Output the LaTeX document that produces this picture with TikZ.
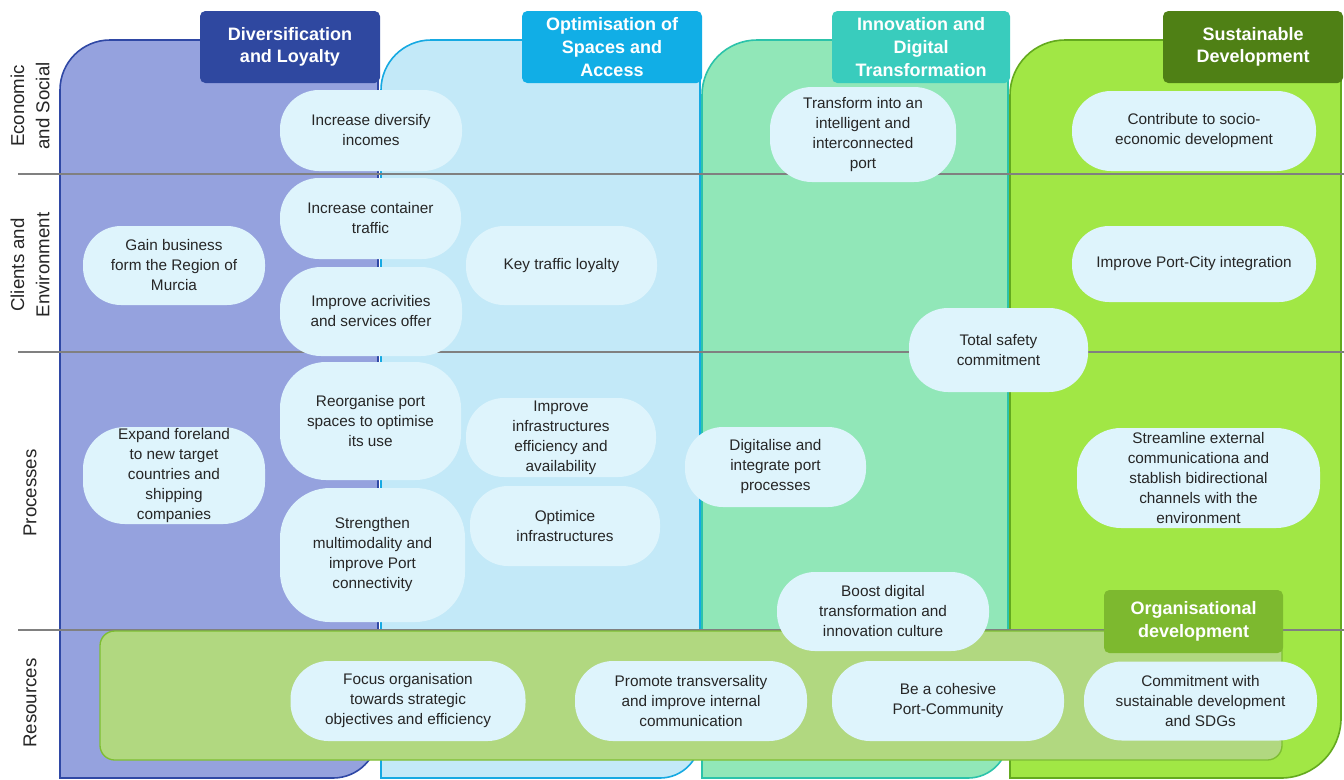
\documentclass[tikz,border=0pt]{standalone}
\usepackage{fontspec}
\setmainfont{Liberation Sans}
\definecolor{divfill}{HTML}{95A2DE}
\definecolor{divline}{HTML}{2F48A5}
\definecolor{divtab}{HTML}{2F48A0}
\definecolor{optfill}{HTML}{C3E9F8}
\definecolor{optline}{HTML}{16A9E2}
\definecolor{opttab}{HTML}{11AEE6}
\definecolor{innfill}{HTML}{91E7B8}
\definecolor{innline}{HTML}{2CC3AA}
\definecolor{inntab}{HTML}{39CCBD}
\definecolor{susfill}{HTML}{A1E745}
\definecolor{susline}{HTML}{64AA1E}
\definecolor{sustab}{HTML}{4F8015}
\definecolor{orgfill}{HTML}{B1D880}
\definecolor{orgline}{HTML}{7EBE32}
\definecolor{orgtab}{HTML}{7DB92F}
\definecolor{bubfill}{HTML}{DEF4FC}
\definecolor{bubtext}{HTML}{262626}
\definecolor{rowgray}{HTML}{808080}

% column panel: top-left and bottom-right corners rounded
% #1 x1, #2 y1, #3 x2, #4 y2, #5 top-left radius, #6 bottom-right radius, #7 style
\newcommand\colpanel[7]{%
  \path[#7] (#1,#4) -- (#1,{#2+#5})
    .. controls (#1,{#2+0.448*#5}) and ({#1+0.448*#5},#2) .. ({#1+#5},#2)
    -- (#3,#2) -- (#3,{#4-#6})
    .. controls (#3,{#4-0.448*#6}) and ({#3-0.448*#6},#4) .. ({#3-#6},#4)
    -- cycle;}

\begin{document}
\begin{tikzpicture}[x=0.75pt,y=-0.75pt,
  bub/.style n args={3}{fill=bubfill, draw=none, rounded corners=#3*0.75pt,
    minimum width=#1*0.75pt, minimum height=#2*0.75pt, inner sep=0pt,
    align=center, text=bubtext, font=\fontsize{11.5}{15}\selectfont},
  tab/.style n args={3}{fill=#3, draw=none, rounded corners=4pt,
    minimum width=#1*0.75pt, minimum height=#2*0.75pt, inner sep=0pt,
    align=center, text=white, font=\bfseries\fontsize{13.5}{17}\selectfont},
  rowlabel/.style={rotate=90, align=center, text=black!85,
    font=\fontsize{14}{19}\selectfont},
  rowline/.style={draw=rowgray, line width=1.4pt}]
\useasboundingbox (0,0) rectangle (1344,779);
\fill[white] (0,0) rectangle (1344,779);

% strategic columns
\colpanel{60}{40}{378}{778}{50}{45}{fill=divfill, draw=divline, line width=1.2pt}
\colpanel{381}{40}{700}{778}{50}{40}{fill=optfill, draw=optline, line width=1.2pt}
\colpanel{702}{40}{1008}{778}{55}{40}{fill=innfill, draw=innline, line width=1.2pt}
\colpanel{1010}{40}{1341}{778}{55}{60}{fill=susfill, draw=susline, line width=1.2pt}

% perspective rows
\draw[rowline] (18,174) -- (1344,174);
\draw[rowline] (18,352) -- (1344,352);
\draw[rowline] (18,630) -- (1344,630);

\node[rowlabel] (lblEco) at (30,106) {Economic\\and Social};
\node[rowlabel] (lblCli) at (30,265) {Clients and\\Environment};
\node[rowlabel] (lblPro) at (30,493) {Processes};
\node[rowlabel] (lblRes) at (30,703) {Resources};

% organisational development band
\path[fill=orgfill, draw=orgline, line width=1pt, rounded corners=11pt]
  (100,631) rectangle (1282,760);

% column headers
\node[tab={180}{72}{divtab}] (tabDiv) at (290,47) {Diversification\\and Loyalty};
\node[tab={180}{72}{opttab}] (tabOpt) at (612,47) {Optimisation of\\Spaces and\\Access};
\node[tab={178}{72}{inntab}] (tabInn) at (921,47) {Innovation and\\Digital\\Transformation};
\node[tab={180}{72}{sustab}] (tabSus) at (1253,47) {Sustainable\\Development};
\node[tab={179}{63}{orgtab}] (tabOrg) at (1193.5,621.5) {Organisational\\development};

% objectives
\node[bub={182}{81}{39}] (incomes) at (371,130.5) {Increase diversify\\incomes};
\node[bub={181}{81}{39}] (container) at (370.5,218.5) {Increase container\\traffic};
\node[bub={182}{89}{41}] (services) at (371,311.5) {Improve acrivities\\and services offer};
\node[bub={182}{79}{38}] (murcia) at (174,265.5) {Gain business\\form the Region of\\Murcia};
\node[bub={191}{79}{38}] (loyalty) at (561.5,265.5) {Key traffic loyalty};
\node[bub={181}{118}{46}] (reorganise) at (370.5,421) {Reorganise port\\spaces to optimise\\its use};
\node[bub={182}{97}{42}] (foreland) at (174,475.5) {Expand foreland\\to new target\\countries and\\shipping\\companies};
\node[bub={190}{79}{38}] (infra) at (561,437.5) {Improve\\infrastructures\\efficiency and\\availability};
\node[bub={190}{80}{38}] (optimice) at (565,526) {Optimice\\infrastructures};
\node[bub={185}{134}{50}] (multimodal) at (372.5,555) {Strengthen\\multimodality and\\improve Port\\connectivity};
\node[bub={186}{95}{42}] (smartport) at (863,134.5) {Transform into an\\intelligent and\\interconnected\\port};
\node[bub={244}{80}{39}] (socio) at (1194,131) {Contribute to socio-\\economic development};
\node[bub={244}{76}{37}] (portcity) at (1194,264) {Improve Port-City integration};
\node[bub={179}{84}{39}] (safety) at (998.5,350) {Total safety\\commitment};
\node[bub={181}{80}{38}] (digitalise) at (775.5,467) {Digitalise and\\integrate port\\processes};
\node[bub={243}{100}{44}] (streamline) at (1198.5,478) {Streamline external\\communicationa and\\stablish bidirectional\\channels with the\\environment};
\node[bub={212}{79}{38}] (culture) at (883,611.5) {Boost digital\\transformation and\\innovation culture};
\node[bub={235}{80}{38}] (focus) at (408,701) {Focus organisation\\towards strategic\\objectives and efficiency};
\node[bub={232}{80}{38}] (transversal) at (691,701) {Promote transversality\\and improve internal\\communication};
\node[bub={232}{80}{38}] (cohesive) at (948,701) {Be a cohesive\\Port-Community};
\node[bub={233}{79}{38}] (sdgs) at (1200.5,701) {Commitment with\\sustainable development\\and SDGs};
\end{tikzpicture}
\end{document}
